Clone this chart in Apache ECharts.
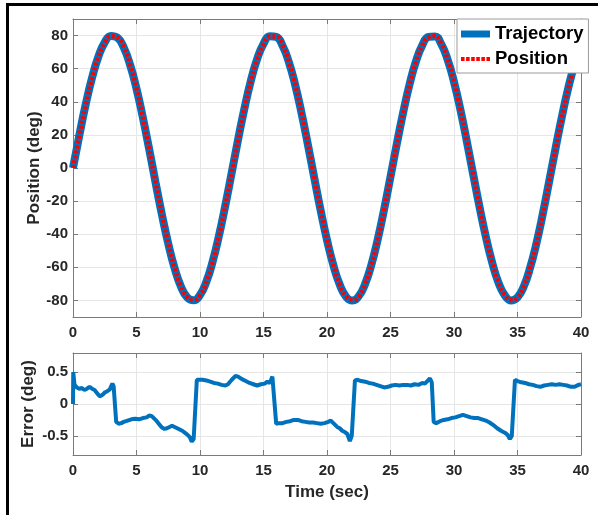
<!DOCTYPE html>
<html>
<head>
<meta charset="utf-8">
<script src="https://cdn.jsdelivr.net/npm/echarts@6/dist/echarts.min.js"></script>
<style>
html,body{margin:0;padding:0;background:#fff;}
#chart{width:598px;height:515px;}
</style>
</head>
<body>
<div id="chart"></div>
<script>
// ---- data ----
var posTime = [0,0.5,1,1.5,2,2.5,3,3.5,4,4.5,5,5.5,6,6.5,7,7.5,8,8.5,9,9.5,10,10.5,11,11.5,12,12.5,13,13.5,14,14.5,15,15.5,16,16.5,17,17.5,18,18.5,19,19.5,20,20.5,21,21.5,22,22.5,23,23.5,24,24.5,25,25.5,26,26.5,27,27.5,28,28.5,29,29.5,30,30.5,31,31.5,32,32.5,33,33.5,34,34.5,35,35.5,36,36.5,37,37.5,38,38.5,39,39.5,40];
var trajectoryDeg = [0,19.8,38.4,54.5,67.3,75.9,79.8,78.7,72.7,62.2,47.9,30.5,11.3,-8.7,-28.1,-45.7,-60.5,-71.6,-78.2,-79.9,-76.7,-68.7,-56.4,-40.7,-22.4,-2.7,17.2,36.0,52.6,65.8,75.0,79.6,79.2,73.8,63.9,50.0,33.0,13.9,-6.0,-25.6,-43.5,-58.7,-70.4,-77.7,-80.0,-77.4,-70.0,-58.3,-42.9,-24.9,-5.3,14.6,33.6,50.5,64.3,74.1,79.2,79.5,74.8,65.4,52.0,35.4,16.5,-3.4,-23.1,-41.3,-56.9,-69.2,-76.9,-80.0,-78.1,-71.4,-60.1,-45.2,-27.4,-7.9,12.0,31.1,48.4,62.6,73.0];
var positionDeg = [0,19.6,38.2,54.3,67.1,75.7,79.6,78.9,72.9,62.4,48.1,30.7,11.1,-8.5,-27.9,-45.5,-60.3,-71.4,-78.0,-79.7,-76.9,-68.9,-56.6,-40.9,-22.6,-2.9,17.0,35.8,52.4,65.6,74.8,79.4,79.4,74.0,64.1,50.2,33.2,14.1,-5.8,-25.4,-43.3,-58.5,-70.2,-77.5,-79.8,-77.6,-70.2,-58.5,-43.1,-25.1,-5.5,14.4,33.4,50.3,64.1,73.9,79.0,79.7,75.0,65.6,52.2,35.6,16.7,-3.2,-22.9,-41.1,-56.7,-69.0,-76.7,-79.8,-78.3,-71.6,-60.3,-45.4,-27.6,-8.1,11.8,30.9,48.2,62.4,72.8];
var errTime = [0,0.02,0.12,0.3,0.5,0.7,0.9,1.1,1.3,1.5,1.7,1.9,2.1,2.3,2.5,2.7,2.9,3.1,3.2,3.4,3.6,3.8,4.0,4.3,4.6,4.9,5.2,5.5,5.8,6.0,6.2,6.4,6.6,6.8,7.0,7.2,7.4,7.6,7.8,8.0,8.2,8.4,8.6,8.8,9.0,9.2,9.35,9.5,9.75,9.9,10.2,10.5,10.8,11.1,11.4,11.7,12.0,12.2,12.5,12.8,13.0,13.3,13.6,13.9,14.2,14.5,14.8,15.1,15.3,15.5,15.7,15.8,16.0,16.2,16.5,16.8,17.1,17.4,17.7,18.0,18.3,18.6,18.9,19.2,19.5,19.8,20.1,20.3,20.5,20.8,21.0,21.2,21.4,21.6,21.8,21.95,22.2,22.4,22.7,23.0,23.3,23.6,23.9,24.2,24.5,24.8,25.1,25.4,25.7,26.0,26.3,26.6,26.9,27.2,27.5,27.7,27.9,28.1,28.25,28.4,28.6,28.9,29.2,29.5,29.8,30.1,30.4,30.7,31.0,31.3,31.6,31.9,32.2,32.5,32.8,33.1,33.4,33.7,34.0,34.2,34.4,34.55,34.8,35.0,35.3,35.6,35.9,36.2,36.5,36.8,37.1,37.4,37.7,38.0,38.3,38.6,38.9,39.2,39.5,39.8,40.0];
var errDeg = [0.00,0.50,0.30,0.26,0.24,0.25,0.22,0.24,0.27,0.24,0.22,0.17,0.12,0.14,0.18,0.20,0.23,0.32,0.28,-0.28,-0.31,-0.30,-0.28,-0.26,-0.24,-0.23,-0.24,-0.22,-0.21,-0.18,-0.19,-0.23,-0.27,-0.32,-0.37,-0.39,-0.38,-0.36,-0.34,-0.36,-0.38,-0.40,-0.42,-0.45,-0.48,-0.52,-0.59,-0.55,0.38,0.40,0.38,0.37,0.35,0.33,0.32,0.30,0.29,0.31,0.38,0.44,0.43,0.39,0.36,0.33,0.31,0.29,0.31,0.32,0.35,0.33,0.43,0.40,-0.31,-0.30,-0.30,-0.28,-0.27,-0.25,-0.25,-0.27,-0.28,-0.29,-0.29,-0.30,-0.31,-0.30,-0.28,-0.26,-0.30,-0.36,-0.38,-0.42,-0.44,-0.47,-0.58,-0.50,0.37,0.38,0.36,0.35,0.33,0.32,0.30,0.28,0.26,0.27,0.29,0.30,0.29,0.30,0.30,0.29,0.31,0.30,0.33,0.32,0.36,0.40,0.34,-0.28,-0.30,-0.27,-0.25,-0.24,-0.22,-0.21,-0.19,-0.17,-0.19,-0.21,-0.22,-0.22,-0.24,-0.26,-0.29,-0.33,-0.38,-0.42,-0.45,-0.48,-0.55,-0.50,0.38,0.36,0.34,0.33,0.31,0.30,0.28,0.27,0.29,0.30,0.31,0.30,0.31,0.30,0.29,0.27,0.27,0.30,0.31];
var posTicks = [-80,-60,-40,-20,0,20,40,60,80];
var errTicks = [-0.5,0,0.5];
var seriesNames = ['Trajectory','Position'];

function pairs(xs, ys){ return xs.map(function(x,i){ return [x, ys[i]]; }); }

var FONT = '"Liberation Sans", Arial, sans-serif';
var axisCol = '#7a7a7a';
var gridCol = '#e6e6e6';
var txtCol = '#262626';

function xAx(grid, pos, showLbl, name){
  return {
    gridIndex: grid, type:'value', min:0, max:40, interval:5, position: pos,
    axisLine:{show:true, onZero:false, lineStyle:{color:axisCol, width:1}},
    axisTick:{show:true, inside:true, length:5, lineStyle:{color:axisCol}},
    axisLabel:{show:showLbl, margin:8, fontFamily:FONT, fontWeight:'bold', fontSize:15, color:txtCol},
    splitLine:{show: pos==='bottom', lineStyle:{color:gridCol, width:1}},
    name: name || '', nameLocation:'middle', nameGap:29, nameMoveOverlap:false,
    nameTextStyle:{fontFamily:FONT, fontWeight:'bold', fontSize:17, color:txtCol}
  };
}
function yAx(grid, pos, min, max, ticks, showLbl, name, gap){
  return {
    gridIndex: grid, type:'value', min:min, max:max, position: pos,
    axisLine:{show:true, onZero:false, lineStyle:{color:axisCol, width:1}},
    axisTick:{show:true, inside:true, length:5, customValues:ticks, lineStyle:{color:axisCol}},
    axisLabel:{show:showLbl, margin:5, customValues:ticks, fontFamily:FONT, fontWeight:'bold', fontSize:15, color:txtCol},
    splitLine:{show: pos==='left', lineStyle:{color:gridCol, width:1}},
    name: name || '', nameLocation:'middle', nameGap: gap || 30, nameMoveOverlap:false,
    nameTextStyle:{fontFamily:FONT, fontWeight:'bold', fontSize:17, color:txtCol}
  };
}

var dottedIcon = 'path://M0,0h3.5v4h-3.5z M5,0h3.5v4h-3.5z M10,0h3.5v4h-3.5z M15,0h3.5v4h-3.5z M20,0h3.5v4h-3.5z M25,0h3.5v4h-3.5z';

var chart = echarts.init(document.getElementById('chart'), null, {renderer:'canvas'});
chart.setOption({
  animation:false,
  backgroundColor:'#fff',
  grid:[
    {left:73, top:19, width:508, height:298},
    {left:73, top:353, width:508, height:102}
  ],
  xAxis:[
    xAx(0,'bottom',true),
    xAx(0,'top',false),
    xAx(1,'bottom',true,'Time (sec)'),
    xAx(1,'top',false)
  ],
  yAxis:[
    yAx(0,'left',-90,90,posTicks,true,'Position (deg)',30),
    yAx(0,'right',-90,90,posTicks,false),
    yAx(1,'left',-0.8,0.8,errTicks,true,'Error (deg)',36),
    yAx(1,'right',-0.8,0.8,errTicks,false)
  ],
  legend:{
    data: [{name:seriesNames[0], icon:'rect'}, {name:seriesNames[1], icon:dottedIcon}],
    orient:'vertical', left:457, top:19,
    backgroundColor:'#fff', borderColor:'#9a9a9a', borderWidth:1, borderRadius:0,
    padding:[5,5,4,4], itemWidth:29, itemHeight:7, itemGap:5,
    textStyle:{fontFamily:FONT, fontWeight:'bold', fontSize:18.5, color:'#000', lineHeight:20}
  },
  series:[
    {name:seriesNames[0], type:'line', xAxisIndex:0, yAxisIndex:0, data:pairs(posTime, trajectoryDeg),
     showSymbol:false, symbol:'none', smooth:true, lineStyle:{color:'#0072BD', width:8}, itemStyle:{color:'#0072BD'}, z:2},
    {name:seriesNames[1], type:'line', xAxisIndex:0, yAxisIndex:0, data:pairs(posTime, positionDeg),
     showSymbol:false, symbol:'none', smooth:true, lineStyle:{color:'#ff0000', width:4.5, type:[3,2], cap:'butt'}, itemStyle:{color:'#ff0000'}, z:3},
    {name:'Error', type:'line', xAxisIndex:2, yAxisIndex:2, data:pairs(errTime, errDeg),
     showSymbol:false, symbol:'none', lineStyle:{color:'#0072BD', width:4}, itemStyle:{color:'#0072BD'}}
  ],
  graphic:[
    {type:'rect', shape:{x:6, y:3, width:592, height:3}, style:{fill:'#000'}, z:100},
    {type:'rect', shape:{x:6, y:3, width:3, height:512}, style:{fill:'#000'}, z:100}
  ]
});
</script>
</body>
</html>
